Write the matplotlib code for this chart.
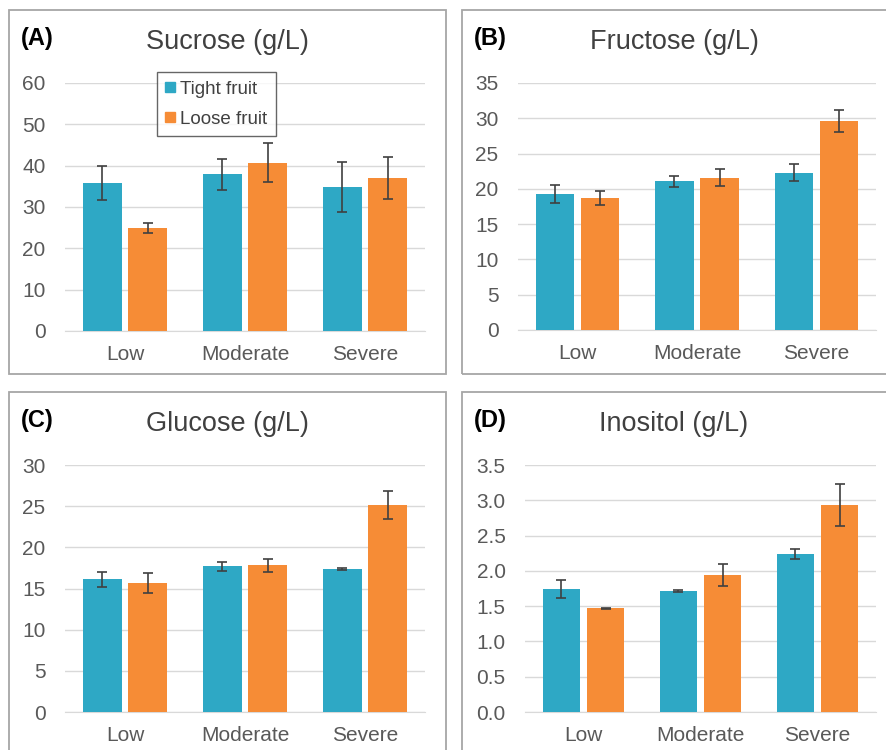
import numpy as np
import matplotlib
matplotlib.use("Agg")
import matplotlib.pyplot as plt
from matplotlib.patches import Rectangle, Patch

plt.rcParams['font.family'] = ['Liberation Sans', 'DejaVu Sans']

# ---------------- DATA ----------------
categories = ["Low", "Moderate", "Severe"]
series = ["Tight fruit", "Loose fruit"]

sucrose_tight = [35.8, 37.9, 34.9]
sucrose_tight_err = [4.0, 3.7, 6.1]
sucrose_loose = [24.9, 40.7, 37.1]
sucrose_loose_err = [1.2, 4.7, 5.1]

fructose_tight = [19.25, 21.05, 22.3]
fructose_tight_err = [1.3, 0.8, 1.25]
fructose_loose = [18.7, 21.6, 29.6]
fructose_loose_err = [1.05, 1.2, 1.55]

glucose_tight = [16.1, 17.7, 17.35]
glucose_tight_err = [0.9, 0.55, 0.15]
glucose_loose = [15.65, 17.8, 25.1]
glucose_loose_err = [1.25, 0.8, 1.7]

inositol_tight = [1.745, 1.717, 2.24]
inositol_tight_err = [0.13, 0.01, 0.075]
inositol_loose = [1.47, 1.94, 2.93]
inositol_loose_err = [0.01, 0.155, 0.295]

# ---------------- STYLE ----------------
TEAL = "#2EA8C5"
ORANGE = "#F68C36"
GRID = "#D9D9D9"
TICK = "#595959"
TITLE = "#404040"

W, H = 886, 750
fig = plt.figure(figsize=(W / 100, H / 100), dpi=100)


def frac(x0, y0, x1, y1):
    # pixel box (top-left origin) -> figure fraction rect
    return [x0 / W, 1 - y1 / H, (x1 - x0) / W, (y1 - y0) / H]


def panel(box, plot, label, title, tight, tight_err, loose, loose_err,
          ymax, ystep, fmt, legend=False):
    bx0, by0, bx1, by1 = box
    fig.patches.append(Rectangle((bx0 / W, 1 - by1 / H), (bx1 - bx0) / W, (by1 - by0) / H,
                                 transform=fig.transFigure, fill=False,
                                 edgecolor="#A6A6A6", linewidth=1.3))
    ax = fig.add_axes(frac(*plot))
    x = np.arange(len(categories))
    bw = 0.32
    off = (bw + 0.058) / 2
    ekw = dict(ecolor="#404040", elinewidth=1.2, capsize=3.5, capthick=1.2)
    ax.bar(x - off, tight, bw, yerr=tight_err, color=TEAL, error_kw=ekw,
           label=series[0], zorder=3)
    ax.bar(x + off, loose, bw, yerr=loose_err, color=ORANGE, error_kw=ekw,
           label=series[1], zorder=3)
    ax.set_xlim(-0.5, 2.5)
    ax.set_ylim(0, ymax)
    ticks = np.arange(0, ymax + ystep / 2, ystep)
    ax.set_yticks(ticks)
    ax.set_yticklabels([fmt.format(t) for t in ticks])
    ax.set_xticks(x)
    ax.set_xticklabels(categories)
    ax.tick_params(length=0, labelsize=15, colors=TICK)
    ax.tick_params(axis="y", pad=14)
    ax.tick_params(axis="x", pad=10)
    ax.grid(axis="y", color=GRID, linewidth=1, zorder=0)
    for s in ["top", "right", "left"]:
        ax.spines[s].set_visible(False)
    ax.spines["bottom"].set_color(GRID)
    ax.spines["bottom"].set_zorder(1)
    cx = (bx0 + min(bx1, W)) / 2
    fig.text(cx / W, 1 - (by0 + 32) / H, title, ha="center", va="center",
             fontsize=19.5, color=TITLE)
    fig.text((bx0 + 12) / W, 1 - (by0 + 29) / H, label, ha="left", va="center",
             fontsize=17, fontweight="bold", color="black")
    if legend:
        handles = [Patch(color=TEAL, label=series[0]), Patch(color=ORANGE, label=series[1])]
        leg = ax.legend(handles=handles, loc="upper left", bbox_to_anchor=(0.255, 1.044),
                        borderaxespad=0, fontsize=13.5, frameon=True, fancybox=False,
                        handlelength=0.5, handleheight=0.5, handletextpad=0.3,
                        borderpad=0.45, labelspacing=0.7, labelcolor=TITLE)
        leg.get_frame().set_edgecolor("#404040")
        leg.get_frame().set_linewidth(1.0)
    return ax


panel((9, 10, 446, 374), (65, 83, 425, 331), "(A)", "Sucrose (g/L)",
      sucrose_tight, sucrose_tight_err, sucrose_loose, sucrose_loose_err,
      60, 10, "{:.0f}", legend=True)
panel((462, 10, 900, 374), (518, 83, 876, 330), "(B)", "Fructose (g/L)",
      fructose_tight, fructose_tight_err, fructose_loose, fructose_loose_err,
      35, 5, "{:.0f}")
panel((9, 392, 446, 770), (65, 465, 425, 712), "(C)", "Glucose (g/L)",
      glucose_tight, glucose_tight_err, glucose_loose, glucose_loose_err,
      30, 5, "{:.0f}")
panel((462, 392, 900, 770), (525, 465, 876, 712), "(D)", "Inositol (g/L)",
      inositol_tight, inositol_tight_err, inositol_loose, inositol_loose_err,
      3.5, 0.5, "{:.1f}")

plt.savefig("out.png", dpi=100)
